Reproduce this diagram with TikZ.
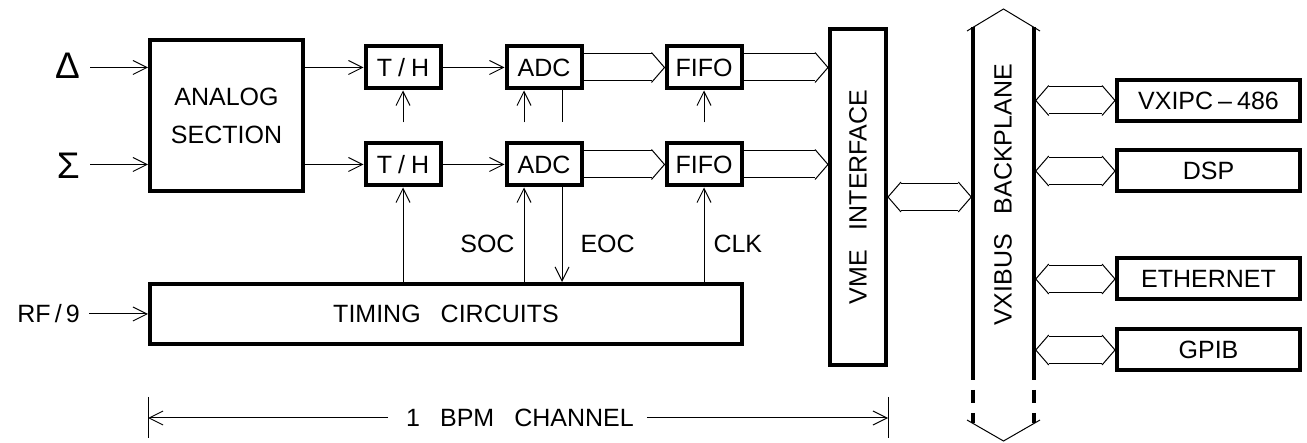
\documentclass[tikz,border=0pt]{standalone}
\usepackage{fontspec}
\setmainfont{Liberation Sans}
\usetikzlibrary{arrows.meta,positioning,calc}
\newcommand\cadfont{\fontsize{25}{38}\selectfont}
\newcommand\wsp{\hspace{0.8em}}
% hollow bus arrows, head at #2 (and at #1 too for \busboth)
\newcommand\busto[2]{%
 \draw[rail] ($(#1)+(0,-13.5)$)--($(#2)+(-13,-13.5)$);
 \draw[rail] ($(#1)+(0,13.5)$)--($(#2)+(-13,13.5)$);
 \draw[rail] ($(#2)+(-13,-15)$)--(#2)--($(#2)+(-13,15)$);}
\newcommand\busboth[2]{%
 \draw[rail] ($(#1)+(13,-13.5)$)--($(#2)+(-13,-13.5)$);
 \draw[rail] ($(#1)+(13,13.5)$)--($(#2)+(-13,13.5)$);
 \draw[rail] ($(#1)+(13,-15)$)--(#1)--($(#1)+(13,15)$);
 \draw[rail] ($(#2)+(-13,-15)$)--(#2)--($(#2)+(-13,15)$);}

\begin{document}
\begin{tikzpicture}[x=1pt,y=-1pt,
 blk/.style={draw,line width=4pt,minimum width=75pt,minimum height=42pt,inner sep=0pt,font=\cadfont},
 wide/.style={blk,minimum width=183pt,minimum height=41pt},
 lbl/.style={inner sep=0pt,font=\cadfont},
 sym/.style={inner sep=0pt,font=\fontsize{37}{40}\selectfont},
 a/.style={-{Straight Barb[length=14pt,width=14pt]},line width=1pt},
 ln/.style={line width=1pt},
 rail/.style={line width=1pt,line join=miter},
 bus/.style={line width=3.5pt,line cap=butt}
]
\useasboundingbox (0,0) rectangle (1307,443);
% analog front end
\node[blk,minimum width=153pt,minimum height=151pt,align=center] (ana) at (226.5,115.5) {ANALOG\\SECTION};
\node[blk] (th1) at (403,67.5) {T\hspace{6pt}/\hspace{6pt}H};
\node[blk,right=62pt of th1] (adc1) {ADC};
\node[blk,right=81pt of adc1] (fifo1) {FIFO};
\node[blk,below=51pt of th1] (th2) {T\hspace{6pt}/\hspace{6pt}H};
\node[blk,right=62pt of th2] (adc2) {ADC};
\node[blk,right=81pt of adc2] (fifo2) {FIFO};
\node[blk,minimum width=592pt,minimum height=60pt] (tim) at (446,314) {TIMING\wsp CIRCUITS};
\node[blk,minimum width=56pt,minimum height=336pt] (vme) at (858,197) {};
\node[lbl,rotate=90] at (vme.center) {VME\wsp INTERFACE};
% modules on the crate bus
\node[wide] (pc) at (1208.5,100.5) {VXIPC\hspace{5pt}--\hspace{5pt}486};
\node[wide,below=25.5pt of pc] (dsp) {DSP};
\node[wide,below=63pt of dsp] (eth) {ETHERNET};
\node[wide,below=26pt of eth] (gpib) {GPIB};
% inputs
\node[sym,anchor=east] (dlt) at (80,66) {Δ};
\node[sym,anchor=east] (sig) at (80,166) {Σ};
\node[lbl,anchor=east] (rf) at (80,314) {RF\,/\,9};
\coordinate (inA) at ($(dlt.east |- th1)+(10,0)$);
\coordinate (inB) at ($(sig.east |- th2)+(10,0)$);
\coordinate (rfA) at ($(rf.east)+(9,0)$);
\draw[a] (inA) -- (inA -| ana.west);
\draw[a] (inB) -- (inB -| ana.west);
\draw[a] (rfA) -- (tim.west);
\draw[a] (ana.east |- th1) -- (th1.west);
\draw[a] (ana.east |- th2) -- (th2.west);
\draw[a] (th1.east) -- (adc1.west);
\draw[a] (th2.east) -- (adc2.west);
% control lines
\coordinate (thA) at ($(th1.south)+(0,32)$);
\coordinate (socA) at ($(adc1.south)+(-20,32)$);
\coordinate (eocA) at ($(adc1.south)+(18,32)$);
\coordinate (clkA) at ($(fifo1.south)+(0,32)$);
\draw[a] (thA) -- (th1.south);
\draw[a] (socA) -- (socA |- adc1.south);
\draw[ln] (eocA |- adc1.south) -- (eocA);
\draw[a] (clkA) -- (fifo1.south);
\coordinate (socB) at ($(adc2.south)+(-20,0)$);
\coordinate (eocB) at ($(adc2.south)+(18,0)$);
\draw[a] (th2.south |- tim.north) -- (th2.south);
\draw[a] (socB |- tim.north) -- node[lbl,pos=0.4,left=9pt]{SOC} (socB);
\draw[a] (eocB) -- node[lbl,pos=0.6,right=18pt]{EOC} (eocB |- tim.north);
\draw[a] (fifo2.south |- tim.north) -- node[lbl,pos=0.4,right=9pt]{CLK} (fifo2.south);
% data buses
\coordinate (vA) at (vme.west |- fifo1.east);
\coordinate (vB) at (vme.west |- fifo2.east);
\busto{adc1.east}{fifo1.west}
\busto{adc2.east}{fifo2.west}
\busto{fifo1.east}{vA}
\busto{fifo2.east}{vB}
% backplane
\coordinate (bpTL) at (973,27);
\coordinate (bpTR) at (1034,27);
\coordinate (bpBL) at (973,380);
\coordinate (bpBR) at (1034,380);
\draw[bus] (bpTL) -- (bpBL);
\draw[bus] (bpTR) -- (bpBR);
\draw[bus,dash pattern=on 13pt off 10pt] ($(bpBL)+(0,10)$) -- ++(0,33);
\draw[bus,dash pattern=on 13pt off 10pt] ($(bpBR)+(0,10)$) -- ++(0,33);
\draw[rail] (967,31) -- (1003.5,9) -- (1040,31);
\draw[rail] (967,420) -- (1003.5,441) -- (1040,420);
\node[lbl,rotate=90] (bptxt) at (1003,195) {VXIBUS\wsp BACKPLANE};
\coordinate (bpL) at ($(bpTL)+(-1.75,0)$);
\coordinate (bpR) at ($(bpTR)+(1.75,0)$);
\coordinate (vxA) at (bpL |- vme.east);
\busboth{vme.east}{vxA}
\foreach \bx in {pc,dsp,eth,gpib}{
  \coordinate (\bx L) at (bpR |- \bx.west);
  \busboth{\bx L}{\bx.west}}
% channel extent
\node[lbl] (bpm) at (520,418) {1\wsp BPM\wsp CHANNEL};
\coordinate (dimL) at (tim.west |- bpm);
\coordinate (dimR) at (vme.east |- bpm);
\draw[ln] ($(dimL)+(0,-21)$) -- ($(dimL)+(0,20)$);
\draw[ln] ($(dimR)+(0,-21)$) -- ($(dimR)+(0,20)$);
\draw[a] ([xshift=-18pt]bpm.west) -- (dimL);
\draw[a] ([xshift=13pt]bpm.east) -- (dimR);
\end{tikzpicture}
\end{document}
